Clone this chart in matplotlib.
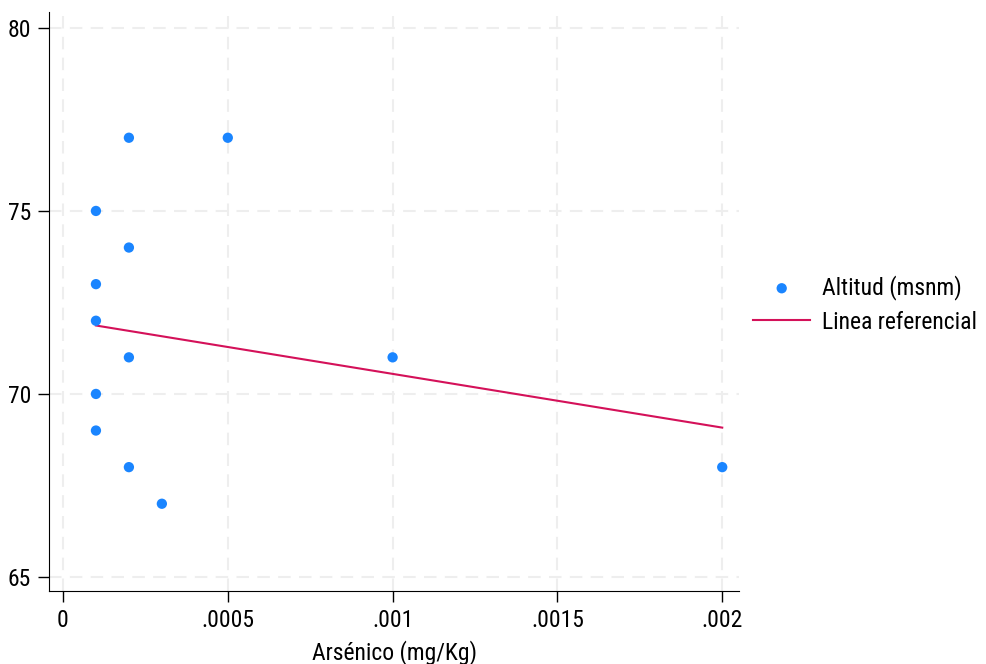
import matplotlib
matplotlib.use("Agg")
import matplotlib.pyplot as plt

arsenico = [0.0002, 0.0005, 0.0001, 0.0002, 0.0001, 0.0001, 0.0002, 0.001,
            0.0001, 0.0001, 0.0002, 0.0003, 0.002]
altitud = [77, 77, 75, 74, 73, 72, 71, 71, 70, 69, 68, 67, 68]
linea_x = [0.0001, 0.002]
linea_y = [71.87, 69.08]
xticks = [0, 0.0005, 0.001, 0.0015, 0.002]
xticklabels = ["0", ".0005", ".001", ".0015", ".002"]
yticks = [65, 70, 75, 80]

plt.rcParams['font.family'] = ["Roboto Condensed", "Liberation Sans", "DejaVu Sans"]

fig = plt.figure(figsize=(9.86, 6.64), dpi=100)
ax = fig.add_axes([0.0497, 0.110, 0.700, 0.872])

ax.scatter(arsenico, altitud, s=55, color="#1A85FF", edgecolors="none",
           label="Altitud (msnm)", zorder=3)
ax.plot(linea_x, linea_y, color="#D41159", lw=1.5, label="Linea referencial", zorder=2)

ax.set_xlim(-0.0000424, 0.0020515)
ax.set_ylim(64.617, 80.437)
ax.set_xticks(xticks)
ax.set_xticklabels(xticklabels)
ax.set_yticks(yticks)
ax.tick_params(labelsize=17, length=8, width=1, direction="out", pad=5)
ax.grid(True, color="#eeeeee", linestyle=(0, (6, 4)), lw=1.5)
ax.set_axisbelow(True)
for s in ["top", "right"]:
    ax.spines[s].set_visible(False)
ax.set_xlabel("Arsénico (mg/Kg)", fontsize=17, labelpad=6)

leg = ax.legend(loc="center left", bbox_to_anchor=(1.0, 0.495), frameon=False,
                fontsize=17, handlelength=2.4, handletextpad=0.5,
                borderaxespad=0.2, labelspacing=0.45, markerscale=1.0)

fig.savefig("out.png", dpi=100)
